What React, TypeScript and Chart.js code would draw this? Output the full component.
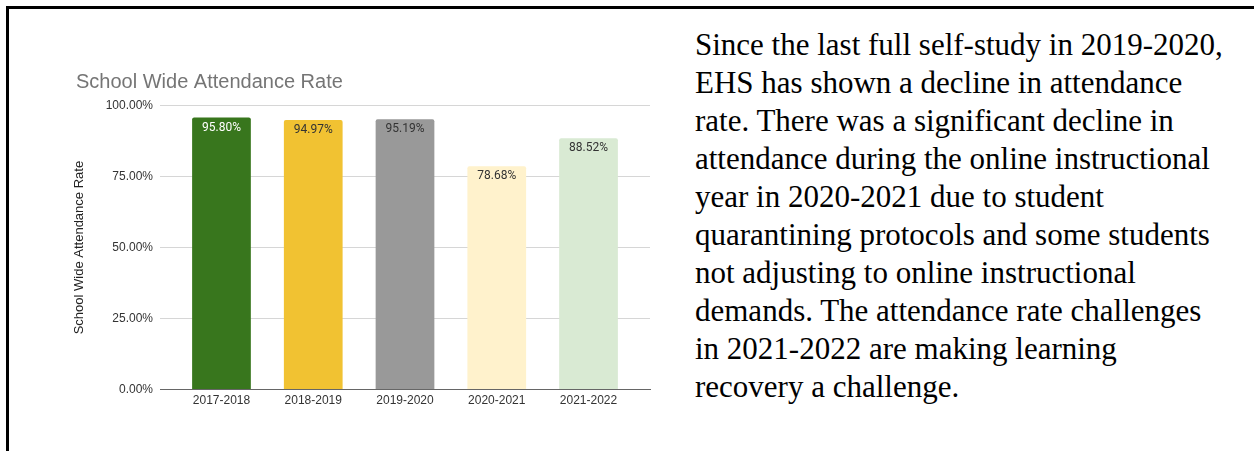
import React, { useEffect, useRef } from 'react';
import { Chart, registerables } from 'chart.js';

Chart.register(...registerables);

// School years on the horizontal axis
const seasons = ['2017-2018', '2018-2019', '2019-2020', '2020-2021', '2021-2022'];
// School wide attendance rate, percent
const attendance = [95.8, 94.97, 95.19, 78.68, 88.52];
const barColors = ['#38761d', '#f1c232', '#999999', '#fff2cc', '#d9ead3'];
const valueLabelColors = ['#ffffff', '#333333', '#333333', '#333333', '#333333'];
const yTickValues = [0, 25, 50, 75, 100];

const paragraphLines = [
  'Since the last full self-study in 2019-2020,',
  'EHS has shown a decline in attendance',
  'rate. There was a significant decline in',
  'attendance during the online instructional',
  'year in 2020-2021 due to student',
  'quarantining protocols and some students',
  'not adjusting to online instructional',
  'demands. The attendance rate challenges',
  'in 2021-2022 are making learning',
  'recovery a challenge.',
];

const SANS = '"Liberation Sans", Arial, sans-serif';

// Writes each bar's value just inside its top edge
const valueLabels = {
  id: 'valueLabels',
  afterDatasetsDraw(chart: any) {
    const { ctx } = chart;
    const meta = chart.getDatasetMeta(0);
    ctx.save();
    ctx.font = '12px Roboto, "Liberation Sans", sans-serif';
    ctx.textAlign = 'center';
    ctx.textBaseline = 'middle';
    meta.data.forEach((bar: any, i: number) => {
      ctx.fillStyle = valueLabelColors[i];
      ctx.fillText(attendance[i].toFixed(2) + '%', bar.x, bar.y + 10);
    });
    ctx.restore();
  },
};

function AttendanceChart() {
  const canvasRef = useRef<HTMLCanvasElement>(null);

  useEffect(() => {
    if (!canvasRef.current) return;
    const chart = new Chart(canvasRef.current, {
      type: 'bar',
      data: {
        datasets: [
          {
            data: attendance.map((v, i) => ({ x: i, y: v })),
            backgroundColor: barColors,
            borderRadius: { topLeft: 2, topRight: 2, bottomLeft: 0, bottomRight: 0 },
            borderSkipped: 'start',
            categoryPercentage: 1,
            barPercentage: 0.64,
          },
        ],
      },
      options: {
        animation: false,
        responsive: false,
        maintainAspectRatio: false,
        events: [],
        layout: { padding: { left: 76, right: 10, top: 0, bottom: 31.5 } },
        plugins: {
          legend: { display: false },
          tooltip: { enabled: false },
          title: {
            display: true,
            text: 'School Wide Attendance Rate',
            align: 'start',
            color: '#757575',
            font: { family: SANS, size: 20, weight: 'normal' },
            padding: { top: 70, bottom: 11.7 },
          },
        },
        scales: {
          x: {
            type: 'linear',
            offset: false,
            min: -0.67,
            max: 4.67,
            afterBuildTicks: (scale: any) => {
              scale.ticks = seasons.map((_, i) => ({ value: i }));
            },
            afterFit: (scale: any) => {
              scale.height = 30;
            },
            ticks: {
              autoSkip: false,
              maxRotation: 0,
              padding: 4,
              color: '#333333',
              font: { family: SANS, size: 12 },
              callback: (v: any) => seasons[v] ?? '',
            },
            grid: { display: false, drawTicks: false, offset: false },
            border: { display: true, color: '#666666', width: 1 },
          },
          y: {
            min: 0,
            max: 100,
            afterBuildTicks: (scale: any) => {
              scale.ticks = yTickValues.map((v) => ({ value: v }));
            },
            afterFit: (scale: any) => {
              scale.width = 84;
            },
            ticks: {
              padding: 7,
              color: '#333333',
              font: { family: SANS, size: 12 },
              callback: (v: any) => Number(v).toFixed(2) + '%',
            },
            grid: {
              drawTicks: false,
              color: (c: any) => (c.tick && c.tick.value === 0 ? 'rgba(0,0,0,0)' : '#d6d6d6'),
            },
            border: { display: false },
            title: {
              display: true,
              text: 'School Wide Attendance Rate',
              color: '#222222',
              font: { family: SANS, size: 13 },
              padding: { top: -4, bottom: 0 },
            },
          },
        },
      },
      plugins: [valueLabels],
    } as any);
    return () => chart.destroy();
  }, []);

  return (
    <canvas
      ref={canvasRef}
      width={660}
      height={451}
      style={{ position: 'absolute', left: 0, top: 0, width: 660, height: 451 }}
    />
  );
}

export default function App() {
  return (
    <div
      style={{
        position: 'fixed',
        left: 0,
        top: 0,
        width: 1254,
        height: 451,
        background: '#ffffff',
        overflow: 'hidden',
      }}
    >
      <AttendanceChart />
      <div style={{ position: 'absolute', left: 6, top: 6, width: 1248, height: 2.5, background: '#000' }} />
      <div style={{ position: 'absolute', left: 6, top: 6, width: 2.5, height: 445, background: '#000' }} />
      <div
        style={{
          position: 'absolute',
          left: 695,
          top: 25.5,
          fontFamily: '"Liberation Serif", "Times New Roman", serif',
          fontSize: 31,
          lineHeight: '38px',
          color: '#000000',
          whiteSpace: 'nowrap',
        }}
      >
        {paragraphLines.map((line, i) => (
          <div key={i}>{line}</div>
        ))}
      </div>
    </div>
  );
}
